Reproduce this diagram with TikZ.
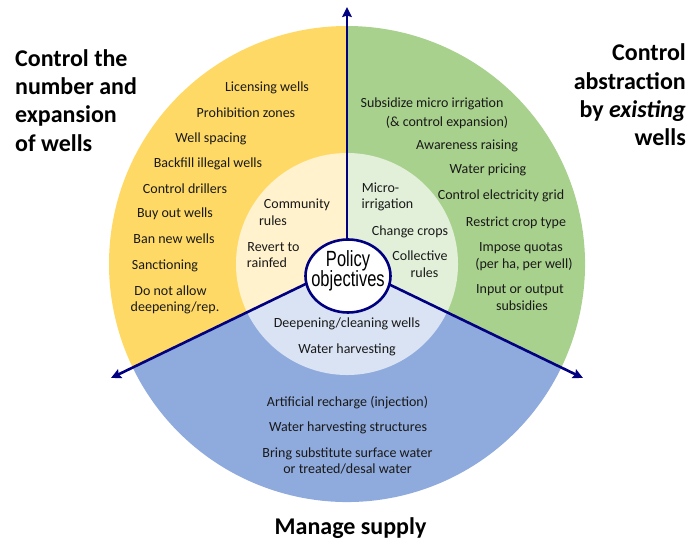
\documentclass[tikz,border=0pt]{standalone}
\usepackage{fontspec}
\setmainfont{Carlito}
\newfontfamily\arialn[FakeStretch=0.75]{Liberation Sans}
\usetikzlibrary{arrows.meta,shapes.geometric}
\definecolor{cyel}{RGB}{255,217,102}
\definecolor{cgrn}{RGB}{169,209,142}
\definecolor{cblu}{RGB}{143,170,220}
\definecolor{lyel}{RGB}{255,242,204}
\definecolor{lgrn}{RGB}{226,240,217}
\definecolor{lblu}{RGB}{218,227,243}
\definecolor{navyblue}{RGB}{0,0,128}
\tikzset{
  txt/.style={font=\fontsize{14}{17}\selectfont, inner sep=0pt, anchor=base, text=black!90},
  ttl/.style={font=\fontsize{24}{29}\bfseries\selectfont, inner sep=0pt, text=black},
  core/.style={font=\arialn\fontsize{22}{20}\selectfont, inner sep=0pt, anchor=base, text=black},
  arr/.style={draw=navyblue, line width=2.6pt, -{Stealth[length=10pt,width=9.5pt,inset=1.5pt]}},
}
\begin{document}
\begin{tikzpicture}[x=1pt,y=-1pt]
\useasboundingbox (0,0) rectangle (689,543);
\coordinate (C) at (347,264);
% outer sectors
\fill[cyel] (C) -- ++(-90:238) arc[start angle=-90, end angle=-206, radius=238] -- cycle;
\fill[cgrn] (C) -- ++(26:238) arc[start angle=26, end angle=-90, radius=238] -- cycle;
\fill[cblu] (C) -- ++(-206:238) arc[start angle=-206, end angle=-334, radius=238] -- cycle;
% inner sectors
\fill[lyel] (C) -- ++(-90:111) arc[start angle=-90, end angle=-206, radius=111] -- cycle;
\fill[lgrn] (C) -- ++(26:111) arc[start angle=26, end angle=-90, radius=111] -- cycle;
\fill[lblu] (C) -- ++(-206:111) arc[start angle=-206, end angle=-334, radius=111] -- cycle;
% arrows
\coordinate (tipT) at (347,7);
\coordinate (tipL) at (111,378);
\coordinate (tipR) at (583,378);
\draw[arr] (C) -- (tipT);
\draw[arr] (C) -- (tipL);
\draw[arr] (C) -- (tipR);
% core
\node[ellipse, draw=navyblue, line width=2.6pt, fill=white, minimum width=85pt, minimum height=73pt, inner sep=0pt] (core) at (348,276) {};
\node[core] (coret1) at (348,266.5) {Policy};
\node[core] (coret2) at (348,286.5) {objectives};
% titles
\node[ttl, anchor=base west] (tl1) at (15,66.5) {Control the};
\node[ttl, anchor=base west] (tl2) at (15,95) {number and};
\node[ttl, anchor=base west] (tl3) at (15,123) {expansion};
\node[ttl, anchor=base west] (tl4) at (15,151) {of wells};
\node[ttl, anchor=base east] (tr1) at (686,61) {Control};
\node[ttl, anchor=base east] (tr2) at (686,90) {abstraction};
\node[ttl, anchor=base east] (tr3) at (686,117.5) {by \textit{existing}};
\node[ttl, anchor=base east] (tr4) at (686,146) {wells};
\node[ttl, anchor=base] (tb) at (350.5,534) {Manage supply};
% yellow outer
\node[txt] (y1) at (267,91.5) {Licensing wells};
\node[txt] (y2) at (246,117.5) {Prohibition zones};
\node[txt] (y3) at (211,142.5) {Well spacing};
\node[txt] (y4) at (208,167.5) {Backfill illegal wells};
\node[txt] (y5) at (185,193.5) {Control drillers};
\node[txt] (y6) at (175,217.5) {Buy out wells};
\node[txt] (y7) at (174,243.5) {Ban new wells};
\node[txt] (y8) at (165,269.5) {Sanctioning};
\node[txt] (y9) at (170.5,295.5) {Do not allow};
\node[txt] (y10) at (175,311.5) {deepening/rep.};
% green outer
\node[txt] (g1) at (432,107.5) {Subsidize micro irrigation};
\node[txt] (g2) at (447,126.5) {(\& control expansion)};
\node[txt] (g3) at (467,149.5) {Awareness raising};
\node[txt] (g4) at (488,173.5) {Water pricing};
\node[txt] (g5) at (501,199.5) {Control electricity grid};
\node[txt] (g6) at (516,226.5) {Restrict crop type};
\node[txt] (g7) at (521,251.5) {Impose quotas};
\node[txt] (g8) at (524,268.5) {(per ha, per well)};
\node[txt] (g9) at (520,293.5) {Input or output};
\node[txt] (g10) at (522,310.5) {subsidies};
% inner
\node[txt] (iy1) at (297,208.5) {Community};
\node[txt] (iy2) at (273,225.5) {rules};
\node[txt] (iy3) at (273.5,251.5) {Revert to};
\node[txt] (iy4) at (267,267.5) {rainfed};
\node[txt] (ig1) at (380.5,192.5) {Micro-};
\node[txt] (ig2) at (387.5,208.5) {irrigation};
\node[txt] (ig3) at (410,235.5) {Change crops};
\node[txt] (ig4) at (420,260.5) {Collective};
\node[txt] (ig5) at (424.5,277.5) {rules};
\node[txt] (ib1) at (347,327.5) {Deepening/cleaning wells};
\node[txt] (ib2) at (347,353.5) {Water harvesting};
% blue outer
\node[txt] (b1) at (347.5,406.5) {Artificial recharge (injection)};
\node[txt] (b2) at (348,431.5) {Water harvesting structures};
\node[txt] (b3) at (347.5,457.5) {Bring substitute surface water};
\node[txt] (b4) at (347.5,473.5) {or treated/desal water};
\end{tikzpicture}
\end{document}
